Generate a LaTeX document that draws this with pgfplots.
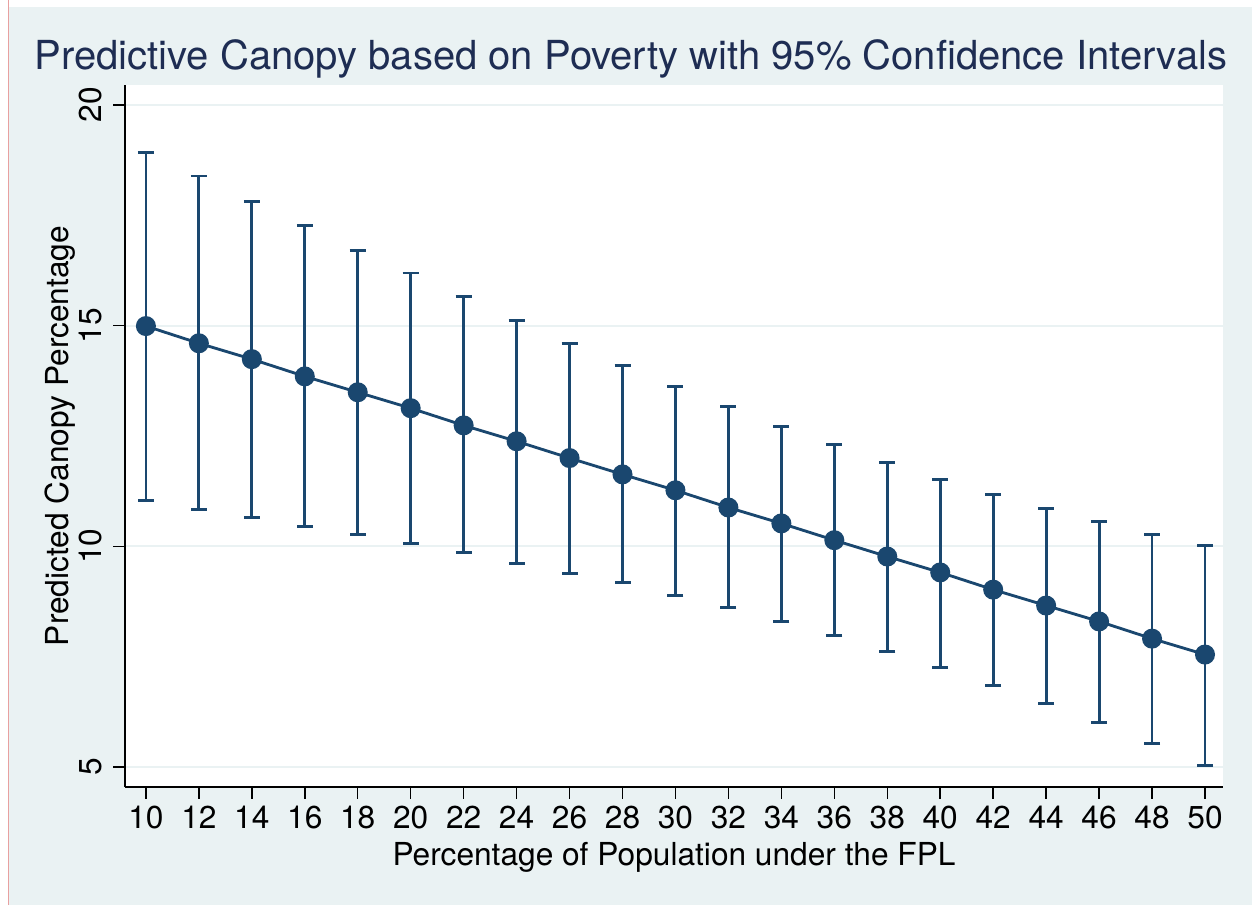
\documentclass[border=0pt]{standalone}
\usepackage{pgfplots}
\pgfplotsset{compat=1.18}
\usepackage{pgfplotstable}
\usepackage{fontspec}
\setmainfont{TeX Gyre Heros}
\definecolor{bgc}{HTML}{EAF2F3}
\definecolor{navy}{HTML}{1A476F}
\definecolor{titlec}{HTML}{1E2D53}
\definecolor{redline}{HTML}{E8A0A0}
\pgfplotstableread{
x  y     lo    hi
10 14.99 11.04 18.93
12 14.60 10.84 18.39
14 14.24 10.66 17.82
16 13.85 10.45 17.26
18 13.49 10.27 16.71
20 13.13 10.07 16.19
22 12.74 9.86  15.65
24 12.38 9.61  15.12
26 12.00 9.39  14.60
28 11.63 9.18  14.10
30 11.27 8.89  13.63
32 10.88 8.62  13.17
34 10.52 8.30  12.72
36 10.14 7.98  12.31
38 9.77  7.62  11.90
40 9.41  7.26  11.52
42 9.02  6.85  11.18
44 8.66  6.44  10.86
46 8.30  6.01  10.57
48 7.91  5.53  10.27
50 7.55  5.03  10.02
}\data
\begin{document}
\begin{tikzpicture}
\path[use as bounding box] (0,0) rectangle (751.2pt,543pt);
\fill[white] (0,0) rectangle (751.2pt,543pt);
\fill[bgc] (5.4pt,0) rectangle (751.2pt,538.8pt);
\draw[redline, line width=0.6pt] (4.8pt,0) -- (4.8pt,543pt);
\begin{axis}[
  at={(75pt,70.8pt)}, anchor=south west,
  scale only axis, width=658.8pt, height=421.2pt,
  xmin=9.21, xmax=50.68, ymin=4.55, ymax=20.45,
  axis x line*=bottom, axis y line*=left,
  axis line style={black, line width=0.9pt},
  axis background/.style={fill=white},
  xtick={10,12,...,50}, ytick={5,10,15,20},
  tick align=outside, major tick length=7pt,
  tick style={black, line width=0.9pt},
  ymajorgrids, grid style={bgc, line width=1.2pt},
  /pgf/number format/assume math mode=true,
  ticklabel style={font=\fontsize{19}{22}\selectfont},
  xticklabel style={yshift=-1pt},
  yticklabel style={rotate=90, anchor=south, yshift=3pt},
  label style={font=\fontsize{19}{22}\selectfont},
  xlabel={Percentage of Population under the FPL},
  ylabel={Predicted Canopy Percentage},
  xlabel style={at={(axis description cs:0.5,0)}, anchor=center, yshift=-42pt},
  ylabel style={at={(axis description cs:0,0.5)}, anchor=center, yshift=39pt},
]
\addplot[navy, line width=1.7pt, mark=*, mark size=5.5pt,
  mark options={fill=navy, draw=navy, line width=1pt},
  error bars/.cd, y dir=both, y explicit,
  error bar style={line width=1.7pt, navy},
  error mark options={rotate=90, mark size=4.8pt, line width=1.7pt, navy}]
  table[x=x, y=y, y error plus expr=\thisrow{hi}-\thisrow{y}, y error minus expr=\thisrow{y}-\thisrow{lo}] {\data};
\end{axis}
\node[titlec, anchor=base, font=\fontsize{24}{28}\selectfont] at (378.6pt,501pt) {Predictive Canopy based on Poverty with 95\% Confidence Intervals};
\end{tikzpicture}
\end{document}
